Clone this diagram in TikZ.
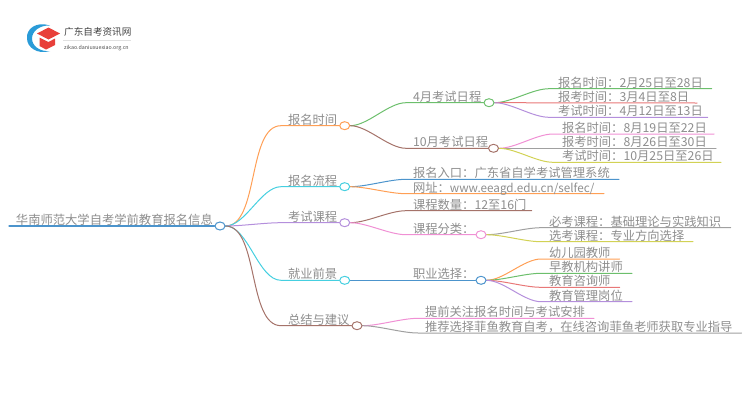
\documentclass[tikz,border=0pt]{standalone}
\usepackage{fontspec}
\setmainfont{Noto Sans CJK SC}
\usetikzlibrary{shapes.geometric,backgrounds}
\definecolor{cOrange}{HTML}{FF9F55}
\definecolor{cCyan}{HTML}{45CFE0}
\definecolor{cPurple}{HTML}{B48FDC}
\definecolor{cBrown}{HTML}{A5736A}
\definecolor{cGreen}{HTML}{6CBF6C}
\definecolor{cRed}{HTML}{E87878}
\definecolor{cPink}{HTML}{F090D4}
\definecolor{cGrey}{HTML}{A0A0A0}
\definecolor{cOlive}{HTML}{D2D255}
\definecolor{cBlue}{HTML}{4C94CC}
\definecolor{cText}{HTML}{8E8E8E}
\definecolor{cLogoBlue}{HTML}{2A9BD8}
\definecolor{cLogoRed}{HTML}{E8403A}
\tikzset{
  label/.style={anchor=base west,inner sep=0pt,outer sep=0pt,text=cText,font=\fontsize{12.3}{14}\selectfont},
  dot/.style={ellipse,draw=#1,fill=white,line width=1pt,minimum width=10pt,minimum height=8pt,inner sep=0pt},
  link/.style={draw=#1,line width=1pt,line cap=round},
  curve/.style={out=0,in=180,looseness=0.75},
}
\begin{document}
\begin{tikzpicture}[x=1pt,y=-1pt]
\useasboundingbox (0,0) rectangle (750,410);
% logo
\fill[cLogoBlue] (50,25.5) .. controls (36,21) and (26,29) .. (27,38.5) .. controls (27,47) and (37,55) .. (50,51) .. controls (40,52) and (32,46) .. (32,38.5) .. controls (32,31) and (40,25) .. (50,25.5) -- cycle;
\fill[cLogoRed] (37,33.5) -- (48.5,27.5) -- (60,33.5) -- (48.5,39.5) -- cycle;
\fill[cLogoRed] (39.5,37.5) -- (48.5,42) -- (55,38.5) -- (55,45) -- (46,49.5) -- (39.5,46) -- cycle;
\node[anchor=base west,inner sep=0pt,text=black!75,font=\fontsize{9.6}{11}\selectfont] (logoa) at (64,35) {广东自考资讯网};
\node[anchor=base west,inner sep=0pt,text=black!70,font=\fontsize{5.3}{6}\selectfont] (logob) at (64,49) {zikao.daniuxuexiao.org.cn};
\coordinate (logoc) at (63,40.3);
\coordinate (logod) at (131,40.3);
\draw[black!12,line width=0.5pt] (logoc) -- (logod);

% knee and end of each underline
\coordinate (rootS) at (9,226);
\coordinate (b1k) at (281,125.7);  \coordinate (b2k) at (281,186.7);
\coordinate (b3k) at (281,222.7);  \coordinate (b4k) at (281,280.3);
\coordinate (b5k) at (281,325.7);
\coordinate (c1k) at (406,102.7);  \coordinate (c2k) at (406,148.3);
\coordinate (c3k) at (406,179.3);  \coordinate (c3e) at (619,179.3);
\coordinate (c4k) at (406,193.7);  \coordinate (c4e) at (604,193.7);
\coordinate (c5k) at (406,210.7);  \coordinate (c5e) at (531.7,210.7);
\coordinate (c6k) at (406,234.7);
\coordinate (c7k) at (406,280.3);
\coordinate (c8k) at (418,318.3);  \coordinate (c8e) at (594,318.3);
\coordinate (c9k) at (418,333);    \coordinate (c9e) at (741.7,333);
\coordinate (d1k) at (549,88.7);   \coordinate (d1e) at (711.7,88.7);
\coordinate (d2e) at (697,103);
\coordinate (d3k) at (549,117.3);  \coordinate (d3e) at (707.7,117.3);
\coordinate (d4k) at (553,134);    \coordinate (d4e) at (714,134);
\coordinate (d5e) at (716,148.3);
\coordinate (d6k) at (553,162.3);  \coordinate (d6e) at (721,162.3);
\coordinate (e1k) at (541,227.7);  \coordinate (e1e) at (730.7,227.7);
\coordinate (e2k) at (541,241.7);  \coordinate (e2e) at (693,241.7);
\coordinate (f1k) at (541,259);    \coordinate (f1e) at (619.7,259);
\coordinate (f2k) at (541,273.3);  \coordinate (f2e) at (632,273.3);
\coordinate (f3k) at (541,287.3);  \coordinate (f3e) at (619.7,287.3);
\coordinate (f4k) at (541,301.7);  \coordinate (f4e) at (632,301.7);

% dots
\node[dot=cBlue] (root) at (220,226) {};
\node[dot=cOrange] (b1) at (344.7,125.7) {};
\node[dot=cCyan] (b2) at (344.7,186.7) {};
\node[dot=cPurple] (b3) at (344.7,222.7) {};
\node[dot=cCyan] (b4) at (344.7,280.3) {};
\node[dot=cBrown] (b5) at (357,325.7) {};
\node[dot=cGreen] (c1) at (489,102.7) {};
\node[dot=cBrown] (c2) at (493.5,148.3) {};
\node[dot=cPink] (c6) at (481,234.7) {};
\node[dot=cBlue] (c7) at (481,280.3) {};

% connectors
\begin{scope}[on background layer]
\draw[link=cBlue,line width=1.3pt] (rootS) -- (root);
\draw[link=cOrange] (root.east) to[curve] (b1k) -- (b1);
\draw[link=cCyan] (root.east) to[curve] (b2k) -- (b2);
\draw[link=cPurple] (root.east) to[curve] (b3k) -- (b3);
\draw[link=cCyan] (root.east) to[curve] (b4k) -- (b4);
\draw[link=cBrown] (root.east) to[curve] (b5k) -- (b5);
\draw[link=cGreen] (b1.east) to[curve] (c1k) -- (c1);
\draw[link=cBrown] (b1.east) to[curve] (c2k) -- (c2);
\draw[link=cBlue] (b2.east) to[curve] (c3k) -- (c3e);
\draw[link=cOrange] (b2.east) to[curve] (c4k) -- (c4e);
\draw[link=cBrown] (b3.east) to[curve] (c5k) -- (c5e);
\draw[link=cPink] (b3.east) to[curve] (c6k) -- (c6);
\draw[link=cBlue] (b4.east) -- (c7k) -- (c7);
\draw[link=cPink] (b5.east) to[curve] (c8k) -- (c8e);
\draw[link=cGrey] (b5.east) to[curve] (c9k) -- (c9e);
\draw[link=cGreen] (c1.east) to[curve] (d1k) -- (d1e);
\draw[link=cRed] (c1.east) -- (d2e);
\draw[link=cPurple] (c1.east) to[curve] (d3k) -- (d3e);
\draw[link=cPink] (c2.east) to[curve] (d4k) -- (d4e);
\draw[link=cGrey] (c2.east) -- (d5e);
\draw[link=cOlive] (c2.east) to[curve] (d6k) -- (d6e);
\draw[link=cGrey] (c6.east) to[curve] (e1k) -- (e1e);
\draw[link=cOlive] (c6.east) to[curve] (e2k) -- (e2e);
\draw[link=cOrange] (c7.east) to[curve] (f1k) -- (f1e);
\draw[link=cGreen] (c7.east) to[curve] (f2k) -- (f2e);
\draw[link=cRed] (c7.east) to[curve] (f3k) -- (f3e);
\draw[link=cPurple] (c7.east) to[curve] (f4k) -- (f4e);
\end{scope}

% labels
\node[label] (t0) at (16,224.5) {华南师范大学自考学前教育报名信息};
\node[label] (t1) at (288,124) {报名时间};
\node[label] (t2) at (288,185) {报名流程};
\node[label] (t3) at (288,221) {考试课程};
\node[label] (t4) at (288,278.6) {就业前景};
\node[label] (t5) at (288,324) {总结与建议};
\node[label] (t6) at (413,101) {4月考试日程};
\node[label] (t7) at (413,146.6) {10月考试日程};
\node[label] (t8) at (413,177.6) {报名入口：广东省自学考试管理系统};
\node[label] (t9) at (413,192) {网址：{\fontsize{11.7}{14}\selectfont www.eeagd.edu.cn/selfec/}};
\node[label] (t10) at (413,209) {课程数量：12至16门};
\node[label] (t11) at (413,233) {课程分类：};
\node[label] (t12) at (413,278.6) {职业选择：};
\node[label] (t13) at (425,316.6) {提前关注报名时间与考试安排};
\node[label] (t14) at (425,331.3) {推荐选择菲鱼教育自考，在线咨询菲鱼老师获取专业指导};
\node[label] (t15) at (558,87) {报名时间：2月25日至28日};
\node[label] (t16) at (558,101.3) {报考时间：3月4日至8日};
\node[label] (t17) at (558,115.6) {考试时间：4月12日至13日};
\node[label] (t18) at (562,132.3) {报名时间：8月19日至22日};
\node[label] (t19) at (562,146.6) {报考时间：8月26日至30日};
\node[label] (t20) at (562,160.6) {考试时间：10月25日至26日};
\node[label] (t21) at (549,226) {必考课程：基础理论与实践知识};
\node[label] (t22) at (549,240) {选考课程：专业方向选择};
\node[label] (t23) at (549,257.3) {幼儿园教师};
\node[label] (t24) at (549,271.6) {早教机构讲师};
\node[label] (t25) at (549,285.6) {教育咨询师};
\node[label] (t26) at (549,300) {教育管理岗位};
\end{tikzpicture}
\end{document}
